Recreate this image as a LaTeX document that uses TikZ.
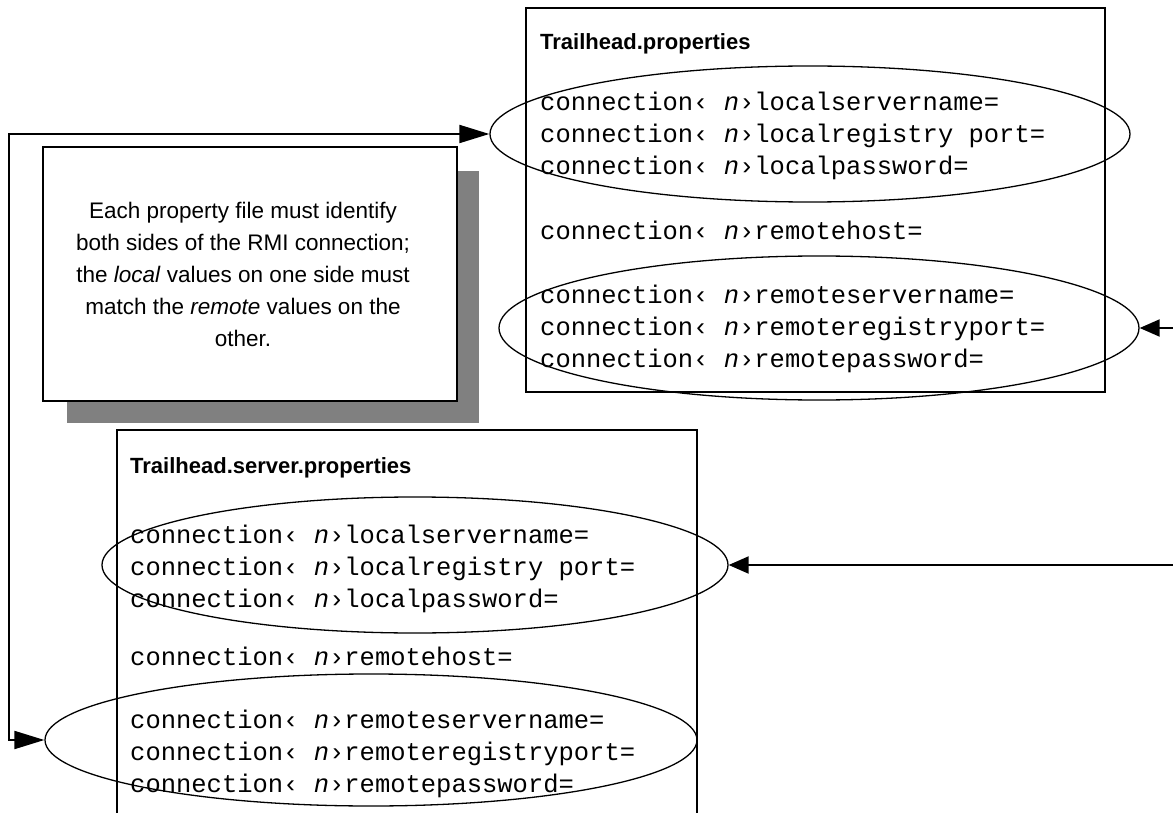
\documentclass[tikz,border=0pt]{standalone}
\usepackage{fontspec}
\setmainfont{Liberation Sans}
\setsansfont{Liberation Sans}
\setmonofont{Liberation Mono}
\usetikzlibrary{shapes.geometric,arrows.meta}
\definecolor{shadowgray}{HTML}{808080}
\tikzset{
  filebox/.style={draw=black, line width=2pt},
  ell/.style={ellipse, draw=black, line width=1.3pt, inner sep=0pt, fill=none},
  mono/.style={anchor=base west, inner sep=0pt, font=\ttfamily\fontsize{25.5}{30}\selectfont},
  ftitle/.style={anchor=base west, inner sep=0pt, font=\sffamily\bfseries\fontsize{22}{26}\selectfont},
  notebox/.style={draw=black, line width=2pt, fill=white, minimum width=414pt, minimum height=254pt, inner sep=0pt},
  shadowbox/.style={fill=shadowgray, minimum width=412pt, minimum height=252pt, inner sep=0pt},
  notetext/.style={align=center, inner sep=0pt, font=\sffamily\fontsize{22.5}{32}\selectfont},
  longarrow/.style={line width=2pt, {Triangle[length=30pt,width=18pt]}-{Triangle[length=30pt,width=18pt]}},
  shortarrow/.style={line width=2pt, -{Triangle[length=20pt,width=17pt]}}
}
\begin{document}
\begin{tikzpicture}[x=1pt,y=-1pt]
\useasboundingbox (0,0) rectangle (1173,813);
\fill[white] (0,0) rectangle (1173,813);

% note with shadow
\node[shadowbox] (noteshadow) at (273,297) {};
\node[notebox] (note) at (250,274) {};
\node[notetext] (notetxt) at (243,274) {Each property file must identify\\both sides of the RMI connection;\\the \textit{local} values on one side must\\match the \textit{remote} values on the\\other.};

% top file box
\node[filebox, minimum width=579pt, minimum height=384pt, inner sep=0pt] (topbox) at (815.5,200) {};
\node[ftitle] (toptitle) at (540,50) {Trailhead.properties};
\node[mono] (t1) at (540,111) {connection‹ \textit{n}›localservername=};
\node[mono] (t2) at (540,143) {connection‹ \textit{n}›localregistry port=};
\node[mono] (t3) at (540,175) {connection‹ \textit{n}›localpassword=};
\node[mono] (t4) at (540,240) {connection‹ \textit{n}›remotehost=};
\node[mono] (t5) at (540,303) {connection‹ \textit{n}›remoteservername=};
\node[mono] (t6) at (540,335) {connection‹ \textit{n}›remoteregistryport=};
\node[mono] (t7) at (540,367) {connection‹ \textit{n}›remotepassword=};

% bottom file box (cut off at the bottom)
\coordinate (bbl) at (117,813);
\coordinate (btl) at (117,430);
\coordinate (btr) at (697,430);
\coordinate (bbr) at (697,813);
\draw[filebox] (bbl) -- (btl) -- (btr) -- (bbr);
\node[ftitle] (bottitle) at (130,473) {Trailhead.server.properties};
\node[mono] (b1) at (130,543) {connection‹ \textit{n}›localservername=};
\node[mono] (b2) at (130,575) {connection‹ \textit{n}›localregistry port=};
\node[mono] (b3) at (130,607) {connection‹ \textit{n}›localpassword=};
\node[mono] (b4) at (130,665) {connection‹ \textit{n}›remotehost=};
\node[mono] (b5) at (130,728) {connection‹ \textit{n}›remoteservername=};
\node[mono] (b6) at (130,760) {connection‹ \textit{n}›remoteregistryport=};
\node[mono] (b7) at (130,792) {connection‹ \textit{n}›remotepassword=};

% ellipses
\node[ell, minimum width=640pt, minimum height=136pt] (E1) at (810,134) {};
\node[ell, minimum width=640pt, minimum height=144pt] (E2) at (819,328) {};
\node[ell, minimum width=626pt, minimum height=136pt] (E3) at (415,565) {};
\node[ell, minimum width=652pt, minimum height=132pt] (E4) at (371,740) {};

% connectors
\coordinate (cTop) at (9,134);
\coordinate (cBot) at (9,740);
\draw[longarrow] (E1.west) -- (cTop) -- (cBot) -- (E4.west);
\coordinate (rA) at (1173,328);
\coordinate (rB) at (1173,565);
\draw[shortarrow] (rA) -- (E2.east);
\draw[shortarrow] (rB) -- (E3.east);
\end{tikzpicture}
\end{document}
